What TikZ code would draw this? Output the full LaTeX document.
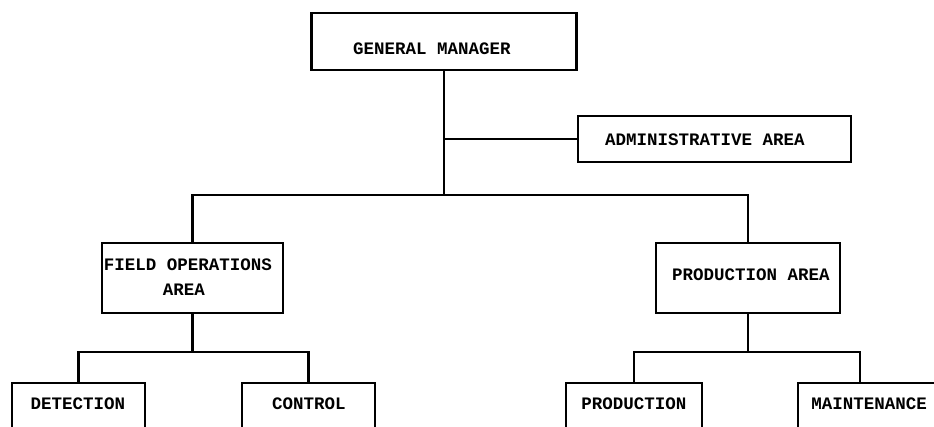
\documentclass[tikz,border=0pt]{standalone}
\usepackage{fontspec}
\newfontfamily\typefont{Liberation Mono}
\begin{document}
\begin{tikzpicture}[x=1pt,y=-1pt,
  box/.style={draw,line width=2.2pt,rectangle,inner sep=0pt},
  txt/.style={font=\typefont\bfseries\fontsize{17.5}{20}\selectfont,inner sep=0pt,anchor=center},
  link/.style={line width=2.2pt}]
\useasboundingbox (0,0) rectangle (934,426);
\clip (0,0) rectangle (934,426);
\fill[white] (0,0) rectangle (934,426);
% boxes
\node[box,minimum width=265pt,minimum height=57pt] (gm) at (444,41.5) {};
\node[box,minimum width=273pt,minimum height=46pt] (adm) at (714.5,139) {};
\node[box,minimum width=181pt,minimum height=70pt] (fo) at (192.5,278) {};
\node[box,minimum width=184pt,minimum height=70pt] (pa) at (748,278) {};
\node[box,minimum width=133pt,minimum height=80pt] (det) at (78.5,423) {};
\node[box,minimum width=133pt,minimum height=80pt] (ctl) at (308.5,423) {};
\node[box,minimum width=136pt,minimum height=80pt] (prd) at (634,423) {};
\node[box,minimum width=160pt,minimum height=80pt] (mt) at (878,423) {};
% texts
\node[txt] (gmt) at (432,49) {GENERAL MANAGER};
\node[txt] (admt) at (705,140) {ADMINISTRATIVE AREA};
\node[txt] (fot1) at (188,265) {FIELD OPERATIONS};
\node[txt] (fot2) at (184,290) {AREA};
\node[txt] (pat) at (751,275) {PRODUCTION AREA};
\node[txt] (dett) at (78,404) {DETECTION};
\node[txt] (ctlt) at (309,404) {CONTROL};
\node[txt] (prdt) at (634,404) {PRODUCTION};
\node[txt] (mtt) at (869,404) {MAINTENANCE};
% junctions
\coordinate (j1) at (444,195);
\coordinate (j2) at (192.5,352);
\coordinate (j3) at (748,352);
\coordinate (mtc) at (860,383);
% connectors
\draw[link] (gm.south) -- (j1);
\draw[link] (gm.south |- adm.west) -- (adm.west);
\draw[link] (fo.north) |- (j1) -| (pa.north);
\draw[link] (fo.south) -- (j2);
\draw[link] (det.north) |- (j2) -| (ctl.north);
\draw[link] (pa.south) -- (j3);
\draw[link] (prd.north) |- (j3) -| (mtc);
\end{tikzpicture}
\end{document}
